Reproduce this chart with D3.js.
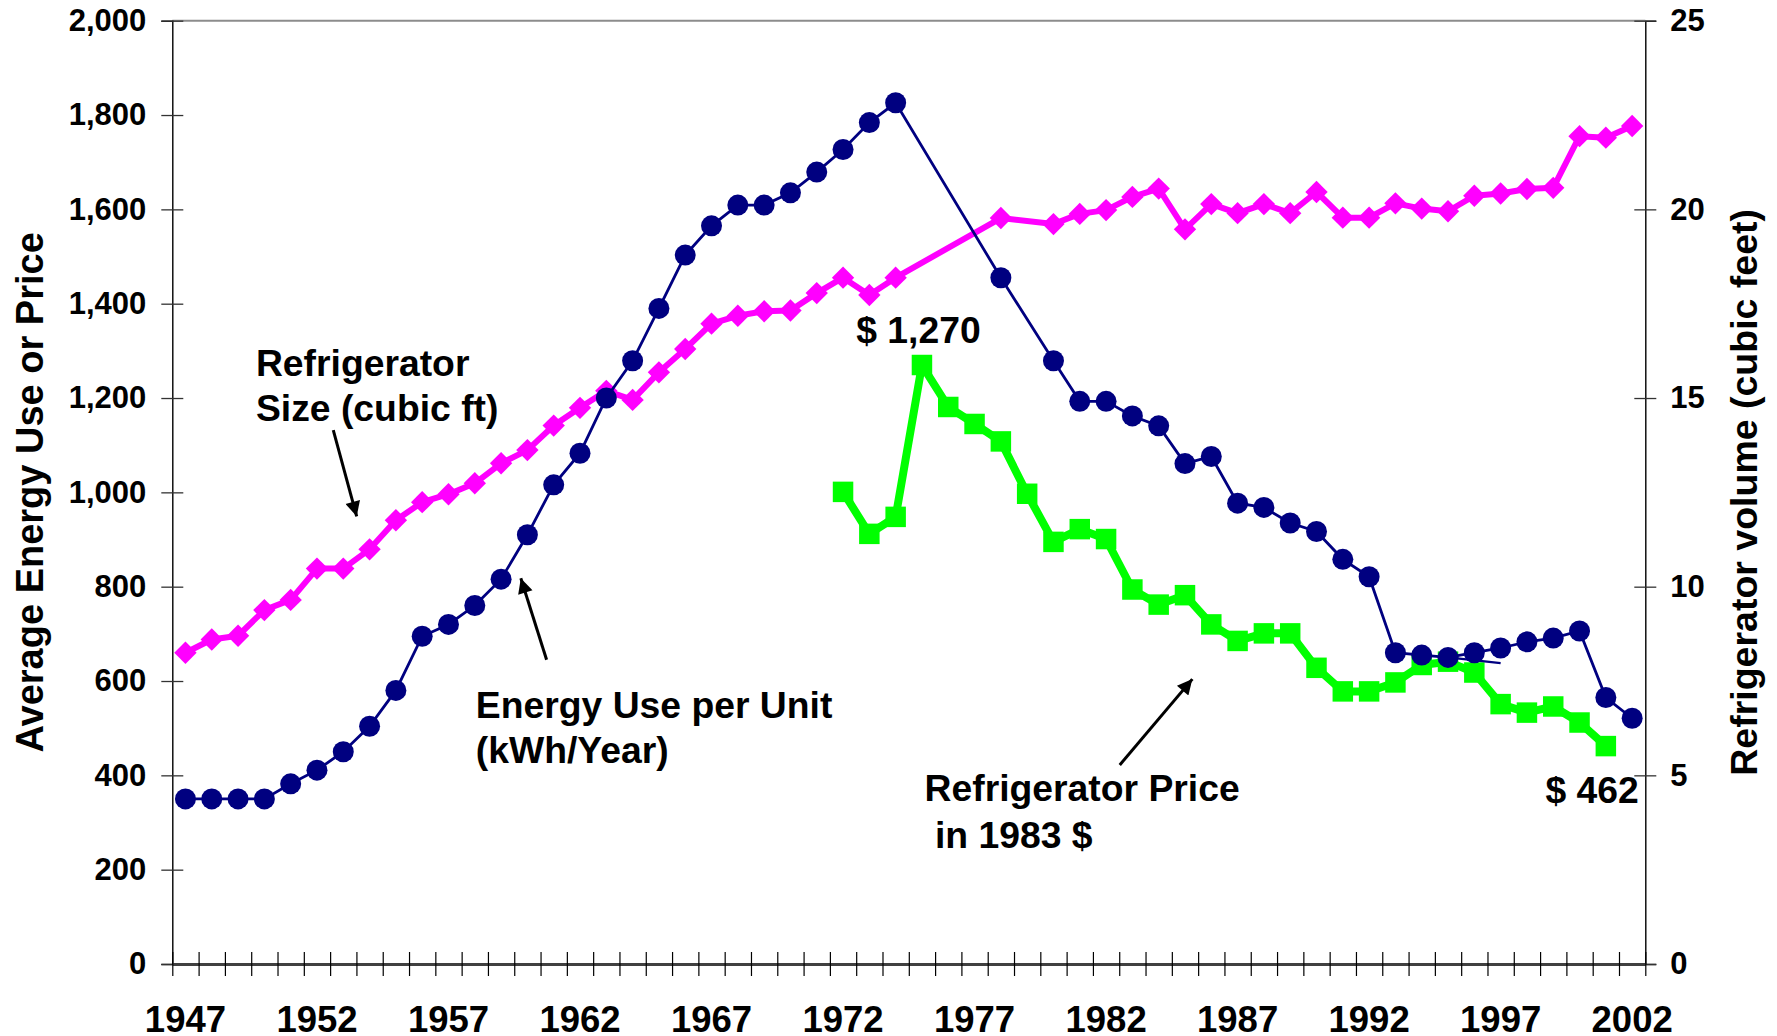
<!DOCTYPE html>
<html>
<head>
<meta charset="utf-8">
<script src="https://cdn.jsdelivr.net/npm/d3@7"></script>
<style>
  body { margin: 0; background: #fff; }
  svg text { font-family: "Liberation Sans", Arial, sans-serif; font-weight: bold; fill: #000; }
</style>
</head>
<body>
<svg id="chart" width="1777" height="1036"></svg>
<script>

// ---- data ----
var years = [1947,1948,1949,1950,1951,1952,1953,1954,1955,1956,1957,1958,1959,1960,
             1961,1962,1963,1964,1965,1966,1967,1968,1969,1970,1971,1972,1973,1974,
             1975,1976,1977,1978,1979,1980,1981,1982,1983,1984,1985,1986,1987,1988,
             1989,1990,1991,1992,1993,1994,1995,1996,1997,1998,1999,2000,2001,2002]

// average energy use per unit, kWh/year (left axis)
var energyUse = [350,350,350,350,382,411,450,504,580,695,720,760,816,910,
                 1016,1083,1200,1279,1390,1503,1565,1609,1609,1635,1679,1727,1784,1826,
                 null,null,null,1455,null,1279,1193,1193,1162,1141,1061,1076,977,968,
                 935,917,858,821,660,655,650,660,670,683,691,706,565,521]

// refrigerator volume, cubic feet (right axis)
var fridgeSize = [8.25,8.6,8.7,9.38,9.65,10.48,10.48,10.99,11.76,12.24,12.45,12.74,13.27,13.62,
                  14.27,14.74,15.19,14.95,15.68,16.3,16.97,17.18,17.3,17.32,17.78,18.19,17.73,18.19,
                  null,null,null,19.77,null,19.61,19.88,19.98,20.33,20.55,19.47,20.14,19.9,20.14,
                  19.9,20.46,19.78,19.78,20.16,20.02,19.95,20.36,20.42,20.54,20.57,21.94,21.9,22.21]

// refrigerator price in 1983 $ (left axis)
var fridgePrice = [null,null,null,null,null,null,null,null,null,null,null,null,null,null,
                   null,null,null,null,null,null,null,null,null,null,null,1001,912,948,
                   1270,1181,1145,1108,997,895,922,901,794,762,782,720,685,701,
                   701,628,578,578,597,634,641,618,551,533,546,512,462,null]

var energyTicks = [0,200,400,600,800,1000,1200,1400,1600,1800,2000]
var sizeTicks = [0,5,10,15,20,25]
var yearLabels = [1947,1952,1957,1962,1967,1972,1977,1982,1987,1992,1997,2002]

// text notes, placed in (year, left-axis value) terms
var notes = [
    {lines: ['Refrigerator', 'Size (cubic ft)'], year: 1949.68, value: 1246, lh: 45},
    {lines: ['Energy Use per Unit', '(kWh/Year)'], year: 1958.04, value: 521, lh: 45},
    {lines: ['Refrigerator Price', ' in 1983 $'], year: 1975.1, value: 346, lh: 47},
    {lines: ['$ 1,270'], year: 1972.5, value: 1316},
    {lines: ['$ 462'], year: 2002.25, value: 342, anchor: 'end'}
]
var arrows = [
    {from: [1952.62, 1132], to: [1953.51, 949]},
    {from: [1960.73, 645], to: [1959.75, 818]},
    {from: [1982.52, 422], to: [1985.28, 604]}
]
// the small stray navy stroke under the 1995-97 points
var strayLine = [[1995, 650], [1997, 638]]

// ---- layout ----
var plotLeft = 172.3, plotRight = 1645.3, plotTop = 20.7, plotBottom = 964

var svg = d3.select('#chart')

var x = d3.scaleBand().domain(years).range([plotLeft, plotRight]).padding(0)
var bw = x.bandwidth()
var xl = d3.scaleLinear().domain([1947, 2002]).range([x(1947) + bw / 2, x(2002) + bw / 2])
var yL = d3.scaleLinear().domain([0, 2000]).range([plotBottom, plotTop])
var yR = d3.scaleLinear().domain([0, 25]).range([plotBottom, plotTop])

function cx(d){ return x(d.year) + bw / 2 }

// plot border (top)
svg.append('line')
    .attr('x1', plotLeft).attr('x2', plotRight).attr('y1', plotTop).attr('y2', plotTop)
    .attr('stroke', '#8c8c8c').attr('stroke-width', 2)

// left axis
var gL = svg.append('g').attr('transform', 'translate(' + plotLeft + ',0)')
    .call(d3.axisLeft(yL).tickValues(energyTicks).tickFormat(d3.format(',')).tickSize(11).tickPadding(15))
gL.select('.domain').attr('stroke', '#000').attr('stroke-width', 1.4)
gL.selectAll('.tick line').attr('x1', 11).attr('x2', -11).attr('stroke', '#333').attr('stroke-width', 1.3)
gL.selectAll('.tick text').style('font-size', '31px').attr('x', -26)

// right axis
var gR = svg.append('g').attr('transform', 'translate(' + plotRight + ',0)')
    .call(d3.axisRight(yR).tickValues(sizeTicks).tickSize(11).tickPadding(15))
gR.select('.domain').attr('stroke', '#000').attr('stroke-width', 1.4)
gR.selectAll('.tick line').attr('x1', -11).attr('x2', 11).attr('stroke', '#333').attr('stroke-width', 1.3)
gR.selectAll('.tick text').style('font-size', '31px').attr('x', 25)

// bottom axis: tick marks on category boundaries, labels every 5 years
var xEdge = d3.scaleLinear().domain([1946.5, 2002.5]).range([plotLeft, plotRight])
var edgeTicks = years.map(function(y){ return y - 0.5 }).concat([2002.5])
var gB = svg.append('g').attr('transform', 'translate(0,' + plotBottom + ')')
    .call(d3.axisBottom(xEdge).tickValues(edgeTicks).tickFormat('').tickSizeOuter(0))
gB.select('.domain').attr('stroke', '#404040').attr('stroke-width', 3)
gB.selectAll('.tick line').attr('y1', -12).attr('y2', 12).attr('stroke', '#000').attr('stroke-width', 1.2)

var gBL = svg.append('g').attr('transform', 'translate(0,' + plotBottom + ')')
    .call(d3.axisBottom(x).tickValues(yearLabels).tickSize(0).tickPadding(42))
gBL.select('.domain').remove()
gBL.selectAll('.tick text').style('font-size', '36.5px')

// axis titles
svg.append('text')
    .attr('transform', 'translate(43,' + (plotTop + plotBottom) / 2 + ') rotate(-90)')
    .attr('text-anchor', 'middle').style('font-size', '38px')
    .text('Average Energy Use or Price')
svg.append('text')
    .attr('transform', 'translate(1757,' + (plotTop + plotBottom) / 2 + ') rotate(-90)')
    .attr('text-anchor', 'middle').style('font-size', '37.5px')
    .text('Refrigerator volume (cubic feet)')

// series
var energyData = years.map(function(y, i){ return {year: y, v: energyUse[i]} }).filter(function(d){ return d.v != null })
var sizeData = years.map(function(y, i){ return {year: y, v: fridgeSize[i]} }).filter(function(d){ return d.v != null })
var priceData = years.map(function(y, i){ return {year: y, v: fridgePrice[i]} }).filter(function(d){ return d.v != null })

// price (green squares)
svg.append('path').datum(priceData)
    .attr('fill', 'none').attr('stroke', '#00ff00').attr('stroke-width', 8).attr('stroke-linejoin', 'round')
    .attr('d', d3.line().x(cx).y(function(d){ return yL(d.v) }))
svg.selectAll('.priceMark').data(priceData).enter().append('path')
    .classed('priceMark', true)
    .attr('d', d3.symbol().type(d3.symbolSquare).size(420))
    .attr('transform', function(d){ return 'translate(' + cx(d) + ',' + yL(d.v) + ')' })
    .attr('fill', '#00ff00')

// size (magenta diamonds)
svg.append('path').datum(sizeData)
    .attr('fill', 'none').attr('stroke', '#ff00ff').attr('stroke-width', 6).attr('stroke-linejoin', 'round')
    .attr('d', d3.line().x(cx).y(function(d){ return yR(d.v) }))
svg.selectAll('.sizeMark').data(sizeData).enter().append('path')
    .classed('sizeMark', true)
    .attr('d', d3.symbol().type(d3.symbolSquare).size(250))
    .attr('transform', function(d){ return 'translate(' + cx(d) + ',' + yR(d.v) + ') rotate(45)' })
    .attr('fill', '#ff00ff')

// energy use (navy circles)
svg.append('path').datum(energyData)
    .attr('fill', 'none').attr('stroke', '#000080').attr('stroke-width', 2.8)
    .attr('d', d3.line().x(cx).y(function(d){ return yL(d.v) }))
svg.append('path').datum(strayLine)
    .attr('fill', 'none').attr('stroke', '#000080').attr('stroke-width', 2.2)
    .attr('d', d3.line().x(function(d){ return xl(d[0]) }).y(function(d){ return yL(d[1]) }))
svg.selectAll('.energyMark').data(energyData).enter().append('circle')
    .classed('energyMark', true)
    .attr('cx', cx).attr('cy', function(d){ return yL(d.v) })
    .attr('r', 10.5).attr('fill', '#000080')

// arrows
svg.append('defs').append('marker')
    .attr('id', 'head').attr('viewBox', '0 0 10 10')
    .attr('refX', 10).attr('refY', 5)
    .attr('markerUnits', 'userSpaceOnUse').attr('markerWidth', 20).attr('markerHeight', 15)
    .attr('orient', 'auto')
  .append('path').attr('d', 'M0,0 L10,5 L0,10 z').attr('fill', '#000')

svg.selectAll('.arrow').data(arrows).enter().append('line')
    .classed('arrow', true)
    .attr('x1', function(d){ return xl(d.from[0]) }).attr('y1', function(d){ return yL(d.from[1]) })
    .attr('x2', function(d){ return xl(d.to[0]) }).attr('y2', function(d){ return yL(d.to[1]) })
    .attr('stroke', '#000').attr('stroke-width', 3)
    .attr('marker-end', 'url(#head)')

// notes
notes.forEach(function(n){
    var t = svg.append('text')
        .attr('x', xl(n.year)).attr('y', yL(n.value))
        .attr('text-anchor', n.anchor || 'start')
        .style('font-size', '37.3px').style('white-space', 'pre')
    n.lines.forEach(function(line, i){
        t.append('tspan').attr('x', xl(n.year)).attr('dy', i ? n.lh : 0).text(line)
    })
})

</script>
</body>
</html>
